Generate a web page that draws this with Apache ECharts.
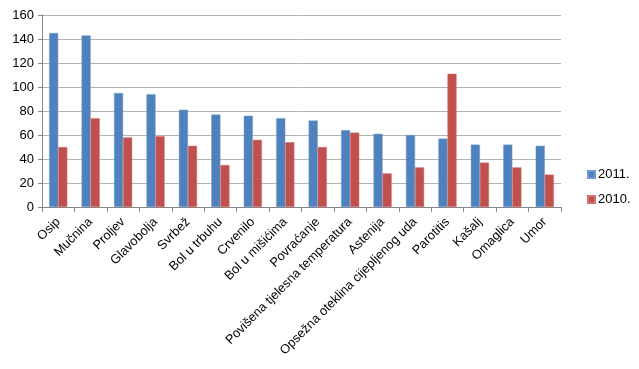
<!DOCTYPE html>
<html><head><meta charset="utf-8">
<script src="https://cdn.jsdelivr.net/npm/echarts@6/dist/echarts.min.js"></script>
<style>html,body{margin:0;padding:0;background:#fff}#c{width:639px;height:369px}</style>
</head><body><div id="c"></div>
<script>
const categories = ["Osip","Mučnina","Proljev","Glavobolja","Svrbež","Bol u trbuhu","Crvenilo","Bol u mišićima","Povraćanje","Povišena tjelesna temperatura","Astenija","Opsežna oteklina cijepljenog uda","Parotitis","Kašalj","Omaglica","Umor"];
const values2011 = [145,143,95,94,81,77,76,74,72,64,61,60,57,52,52,51];
const values2010 = [50,74,58,59,51,35,56,54,50,62,28,33,111,37,33,27];
const seriesNames = ["2011.","2010."];
const yTicks = {min:0,max:160,interval:20};

const chart = echarts.init(document.getElementById('c'), null, {renderer:'canvas'});
const font = 'Liberation Sans';
chart.setOption({
  animation:false,
  textStyle:{fontFamily:font},
  grid:{left:42,right:78,top:15,bottom:162,containLabel:false},
  legend:{
    orient:'vertical', left:582, top:163, itemWidth:7, itemHeight:7, itemGap:12,
    icon:'rect',
    textStyle:{fontFamily:font,fontSize:13,color:'#000',padding:[0,0,0,-2]},
    data:seriesNames
  },
  xAxis:{
    type:'category', data:categories,
    axisLine:{lineStyle:{color:'#868686'}},
    axisTick:{show:true,length:5,lineStyle:{color:'#868686'}},
    axisLabel:{rotate:45,fontSize:12.8,color:'#000',interval:0,margin:13,fontFamily:font}
  },
  yAxis:{
    type:'value', min:yTicks.min, max:yTicks.max, interval:yTicks.interval,
    axisLine:{show:true,lineStyle:{color:'#868686'}},
    axisTick:{show:true,length:4,lineStyle:{color:'#868686'}},
    splitLine:{lineStyle:{color:'#b3b3b3'}},
    axisLabel:{fontSize:13,color:'#000',margin:8,fontFamily:font}
  },
  series:[
    {name:seriesNames[0],type:'bar',data:values2011,barGap:'0%',barCategoryGap:'44%',
     itemStyle:{color:'#4F81BD',borderColor:'#6f9ad0',borderWidth:0.5}},
    {name:seriesNames[1],type:'bar',data:values2010,barGap:'0%',barCategoryGap:'44%',
     itemStyle:{color:'#C0504D',borderColor:'#d47370',borderWidth:0.5}}
  ]
});
</script></body></html>
